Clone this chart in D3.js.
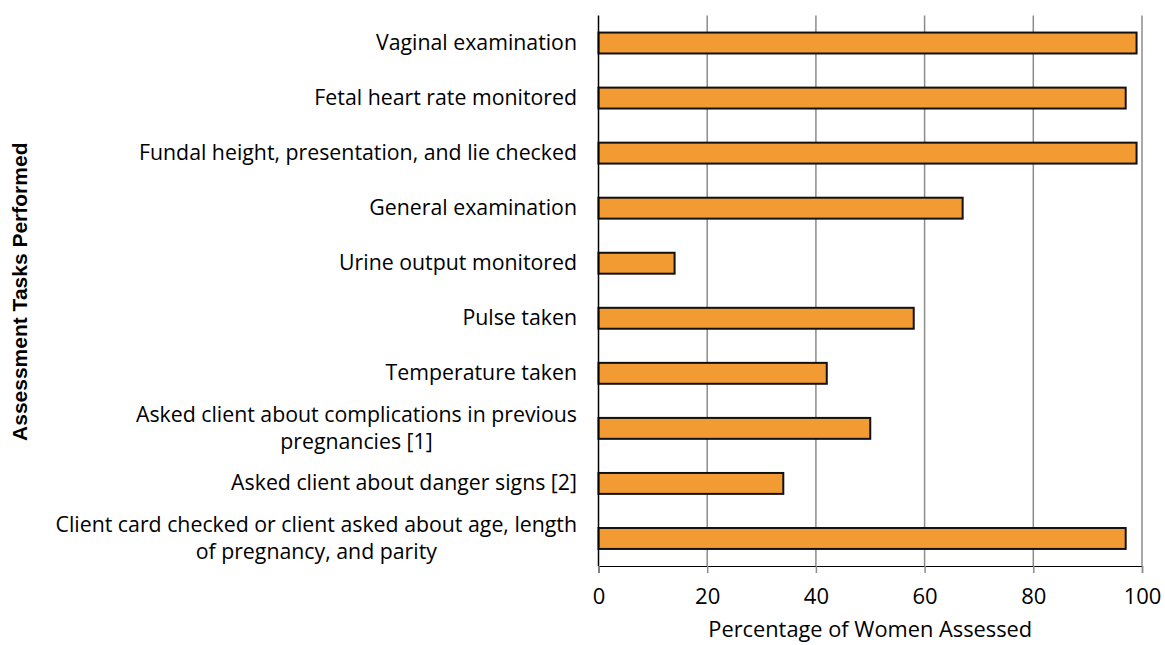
<!DOCTYPE html>
<html>
<head>
<meta charset="utf-8">
<script src="https://cdn.jsdelivr.net/npm/d3@7"></script>
<style>
  body { margin: 0; background: #fff; }
  text { fill: #000; }
</style>
</head>
<body>
<svg id="chart" width="1165" height="645"></svg>
<script>
// tasks listed top to bottom, each split into display lines
const tasks = [
  ["Vaginal examination"],
  ["Fetal heart rate monitored"],
  ["Fundal height, presentation, and lie checked"],
  ["General examination"],
  ["Urine output monitored"],
  ["Pulse taken"],
  ["Temperature taken"],
  ["Asked client about complications in previous", "pregnancies [1]"],
  ["Asked client about danger signs [2]"],
  ["Client card checked or client asked about age, length", "of pregnancy, and parity"]
];
const percents = [99, 97, 99, 67, 14, 58, 42, 50, 34, 97];
const xTicks = [0, 20, 40, 60, 80, 100];

const svg = d3.select('#chart');
const margin = { left: 598.5, right: 23, top: 15.5, bottom: 79 };
const width = parseFloat(svg.attr('width'));
const height = parseFloat(svg.attr('height'));
const bodyFont = '"Open Sans", sans-serif';

const x = d3.scaleLinear().domain([0, 100]).range([margin.left, width - margin.right]);
const y = d3.scaleBand().domain(d3.range(tasks.length))
  .range([margin.top, height - margin.bottom]).paddingInner(0.62).paddingOuter(0.31);

// gridlines
svg.append('g').selectAll('line').data(xTicks.slice(1)).enter().append('line')
  .attr('x1', d => x(d)).attr('x2', d => x(d))
  .attr('y1', margin.top).attr('y2', height - margin.bottom)
  .attr('stroke', '#8c8c8c').attr('stroke-width', 1.5);

// bars
svg.append('g').selectAll('rect').data(percents).enter().append('rect')
  .attr('x', x(0))
  .attr('y', (d, i) => y(i))
  .attr('width', d => x(d) - x(0))
  .attr('height', y.bandwidth())
  .attr('fill', '#f29b32')
  .attr('stroke', '#111')
  .attr('stroke-width', 2);

// x axis
const xAxis = svg.append('g')
  .attr('transform', `translate(0,${height - margin.bottom})`)
  .call(d3.axisBottom(x).tickValues(xTicks).tickSizeOuter(0).tickSize(7).tickPadding(15));
xAxis.select('.domain').attr('stroke', '#000').attr('stroke-width', 1.2);
xAxis.selectAll('.tick line').attr('stroke', '#8c8c8c').attr('stroke-width', 1.5);
xAxis.selectAll('text').style('font-size', '22px').style('font-family', bodyFont);

// y axis line
svg.append('line')
  .attr('x1', x(0)).attr('x2', x(0))
  .attr('y1', margin.top).attr('y2', height - margin.bottom)
  .attr('stroke', '#000').attr('stroke-width', 1.5);

// category labels
const labelX = 577;
const lineH = 27;
const labels = svg.append('g').selectAll('text').data(tasks).enter().append('text')
  .style('font-size', '21.3px')
  .style('font-family', bodyFont)
  .attr('text-anchor', 'end')
  .attr('x', labelX)
  .attr('y', (d, i) => y(i) + y.bandwidth() / 2 - (d.length - 1) * lineH / 2 + 7);
labels.each(function (d) {
  const t = d3.select(this);
  if (d.length === 1) { t.text(d[0]); return; }
  // first line right-aligned, following lines centred under it
  const first = t.append('tspan').text(d[0]);
  const w = first.node().getComputedTextLength();
  const cx = labelX - w / 2;
  t.attr('text-anchor', 'middle');
  first.attr('x', cx);
  d.slice(1).forEach(line => t.append('tspan').attr('x', cx).attr('dy', lineH).text(line));
});

// axis titles
svg.append('text')
  .attr('x', x(50)).attr('y', 637)
  .attr('text-anchor', 'middle')
  .style('font-size', '21.8px')
  .style('font-family', bodyFont)
  .text('Percentage of Women Assessed');

svg.append('text')
  .attr('transform', `translate(27,${(margin.top + height - margin.bottom) / 2 + 1}) rotate(-90)`)
  .attr('text-anchor', 'middle')
  .style('font-size', '21px')
  .style('font-weight', 'bold')
  .style('font-family', '"Liberation Sans", Arial, sans-serif')
  .text('Assessment Tasks Performed');
</script>
</body>
</html>
